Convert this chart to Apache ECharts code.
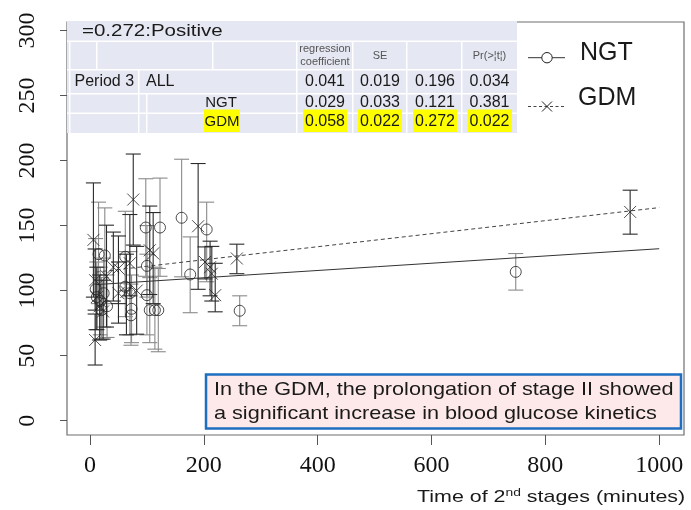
<!DOCTYPE html>
<html><head><meta charset="utf-8">
<script src="https://cdn.jsdelivr.net/npm/echarts@6/dist/echarts.min.js"></script>
<style>html,body{margin:0;padding:0;background:#fff}#c{width:691px;height:510px}</style>
</head><body><div id="c"></div>
<script>
// ---- data ----
const xTicks = [0, 200, 400, 600, 800, 1000];
const yTicks = [0, 50, 100, 150, 200, 250, 300];
// NGT: time (min), glucose, lower, upper
const ngtX  = [10, 12, 15, 18, 20, 24, 26, 30, 62, 62, 70, 73, 72, 98, 100, 100, 105, 114, 120, 123, 161, 176, 205, 263, 748];
const ngtY  = [101, 95, 128, 92, 85, 98, 127, 88, 126, 103, 98, 86, 81, 148.5, 119, 96.5, 85, 85, 85, 148.5, 156, 112.4, 147, 84.5, 114.4];
const ngtLo = [70, 70, 90, 66, 62.7, 72, 90, 64, 100, 80, 66, 60, 58, 111, 95, 66, 60, 55, 53, 111, 110.6, 83, 106.8, 73, 100.4];
const ngtHi = [140, 122, 168, 118, 110, 125, 163.6, 112, 161, 130, 130, 112, 105, 186, 150, 128, 110, 118, 117, 186.5, 201, 141.3, 168, 96, 128.5];
// GDM
const gdmX  = [6, 9, 9, 12, 17, 23, 29, 41, 50, 50, 64, 70, 76, 82, 105, 111, 190, 202, 211, 214, 220, 258, 949];
const gdmY  = [139, 62, 108, 95, 88, 84, 111, 118, 117, 98, 99, 121, 170, 100, 131, 128.6, 149.5, 122, 118, 113, 96.5, 124.7, 160.5];
const gdmLo = [95, 42.8, 85, 70, 62, 62.7, 72, 92, 90, 75, 66, 96, 135, 66.5, 97, 90, 101, 109, 96, 92, 83.7, 113, 143.4];
const gdmHi = [182.8, 82, 132, 118, 112, 108, 150.3, 145, 142, 122, 128, 158.5, 205, 134, 165, 160, 197.7, 133.6, 138, 134, 121, 135.7, 177.2];
// regression line end points
const ngtLine = [[10, 104.6], [1000, 132.2]];
const gdmLine = [[10, 114.2], [1000, 163.8]];
// table
const tableTitle = '=0.272:Positive';
const tableHead = ['regression\ncoefficient', 'SE', '', 'Pr(>¦t¦)'];
const rowAll = ['0.041', '0.019', '0.196', '0.034'];
const rowNgt = ['0.029', '0.033', '0.121', '0.381'];
const rowGdm = ['0.058', '0.022', '0.272', '0.022'];
const note = ['In the GDM, the prolongation of stage II showed', 'a significant increase in blood glucose kinetics'];

// ---- build ----
const chart = echarts.init(document.getElementById('c'), null, {renderer: 'canvas'});
const SANS = '"Liberation Sans", Arial, sans-serif';
const SERIF = '"Liberation Serif", "Times New Roman", serif';

function zip(a, b, c) { return a.map((v, i) => c ? [v, b[i], c[i]] : [v, b[i]]); }

function errBar(color) {
  return function (params, api) {
    const x = api.value(0), lo = api.value(1), hi = api.value(2);
    const a = api.coord([x, lo]), b = api.coord([x, hi]);
    const w = 7.5;
    const st = {stroke: color, lineWidth: 1.1};
    return {type: 'group', children: [
      {type: 'line', shape: {x1: a[0], y1: a[1], x2: b[0], y2: b[1]}, style: st},
      {type: 'line', shape: {x1: a[0] - w, y1: a[1], x2: a[0] + w, y2: a[1]}, style: st},
      {type: 'line', shape: {x1: b[0] - w, y1: b[1], x2: b[0] + w, y2: b[1]}, style: st}
    ]};
  };
}

const XPATH = 'path://M0,0L10,10M10,0L0,10';

// table graphics
const G = [];
const LAV = '#e5e7f2';
function cell(x1, y1, x2, y2, fill) {
  G.push({type: 'rect', z: 100, shape: {x: x1, y: y1, width: x2 - x1, height: y2 - y1}, style: {fill: fill || LAV}});
}
function txt(s, x, y, size, opt) {
  opt = opt || {};
  G.push({type: 'text', z: 101, x: x, y: y, scaleX: opt.sx || 1,
    style: {text: s, font: (opt.w || 'normal') + ' ' + size + 'px ' + (opt.f || SANS), fill: opt.c || '#1a1a1a',
      textAlign: opt.a || 'left', textVerticalAlign: 'middle', lineHeight: opt.lh || size}});
}
// white background of table
cell(67, 21, 517, 133, '#ffffff');
// row 1
cell(67, 21, 517, 40.5);
// row 2 .. 5 column splits
const colsA = [[67, 69], [70.5, 96], [97.5, 212], [213.5, 296], [297.5, 352], [353.5, 406], [407.5, 461], [462.5, 517]];
colsA.forEach(c => cell(c[0], 42, c[1], 69));
const colsB = [[67, 69], [70.5, 138], [139.5, 296], [297.5, 352], [353.5, 406], [407.5, 461], [462.5, 517]];
colsB.forEach(c => cell(c[0], 70.5, c[1], 93));
const colsC = [[67, 69], [70.5, 138], [139.5, 146], [147.5, 296], [297.5, 352], [353.5, 406], [407.5, 461], [462.5, 517]];
colsC.forEach(c => cell(c[0], 94.5, c[1], 112.5));
colsC.forEach(c => cell(c[0], 114, c[1], 133));

const valCx = [325, 380, 435, 489.5];
txt(tableTitle, 82, 31.5, 16, {sx: 1.28});
tableHead.forEach((h, i) => { if (h) txt(h, valCx[i], 55.5, 11, {a: 'center', c: '#555', lh: 12.5}); });
txt('Period 3', 74.5, 82, 16);
txt('ALL', 146, 81.5, 16);
rowAll.forEach((v, i) => txt(v, valCx[i], 82, 16, {a: 'center'}));
txt('NGT', 221, 103, 15, {a: 'center'});
rowNgt.forEach((v, i) => txt(v, valCx[i], 103, 16, {a: 'center'}));
// yellow highlights of GDM row
[[204, 240], [303, 347], [358, 402], [413, 457], [467.5, 512]].forEach(c => cell(c[0], 109.5, c[1], 132, '#ffff00'));
txt('GDM', 222, 122, 15, {a: 'center'});
rowGdm.forEach((v, i) => txt(v, valCx[i], 122, 16, {a: 'center'}));

// legend
G.push({type: 'line', z: 101, shape: {x1: 528, y1: 57.7, x2: 565, y2: 57.7}, style: {stroke: '#333', lineWidth: 1}});
G.push({type: 'circle', z: 102, shape: {cx: 547, cy: 57.7, r: 5.2}, style: {stroke: '#222', fill: '#fff', lineWidth: 1}});
txt('NGT', 580, 53, 25);
G.push({type: 'line', z: 101, shape: {x1: 528, y1: 106.5, x2: 565, y2: 106.5}, style: {stroke: '#444', lineWidth: 1, lineDash: [3, 2.5]}});
G.push({type: 'line', z: 102, shape: {x1: 542, y1: 101.5, x2: 552, y2: 111.5}, style: {stroke: '#222', lineWidth: 1}});
G.push({type: 'line', z: 102, shape: {x1: 552, y1: 101.5, x2: 542, y2: 111.5}, style: {stroke: '#222', lineWidth: 1}});
txt('GDM', 578, 98, 25);

// annotation box
G.push({type: 'rect', z: 100, shape: {x: 206, y: 374.5, width: 475, height: 54}, style: {fill: '#fde9e9', stroke: '#1f6fc0', lineWidth: 2.5}});
txt(note[0], 214, 390, 18.5, {sx: 1.17});
txt(note[1], 214, 413.5, 18.5, {sx: 1.17});

// x axis title with superscript
G.push({type: 'text', z: 101, x: 417, y: 497, scaleX: 1.26,
  style: {text: '{a|Time of 2}{s|nd}{a| stages (minutes)}', textVerticalAlign: 'middle',
    rich: {a: {font: '17px ' + SANS, fill: '#1a1a1a'}, s: {font: '11px ' + SANS, fill: '#1a1a1a', verticalAlign: 'top', padding: [0, 0, 9, 0]}}}});

const option = {
  backgroundColor: '#fff',
  animation: false,
  grid: {left: 67, right: 7, top: 22, bottom: 75, show: true, borderColor: '#6e6e6e', borderWidth: 1.2, backgroundColor: 'transparent'},
  xAxis: {
    type: 'value', min: -40.4, max: 1043.6,
    splitLine: {show: false},
    axisLine: {show: false, onZero: false},
    axisTick: {show: true, length: 10, inside: false, customValues: xTicks, lineStyle: {color: '#555'}},
    axisLabel: {customValues: xTicks, margin: 19, fontFamily: SERIF, fontSize: 24, color: '#111', formatter: v => String(v)}
  },
  yAxis: {
    type: 'value', min: -11, max: 306.5,
    splitLine: {show: false},
    axisLine: {show: false, onZero: false},
    axisTick: {show: true, length: 7, customValues: yTicks, lineStyle: {color: '#555'}},
    axisLabel: {customValues: yTicks, rotate: 90, margin: 27, fontFamily: SERIF, fontSize: 24, color: '#111', formatter: v => String(v)}
  },
  graphic: {elements: G},
  series: [
    {type: 'custom', name: 'NGT err', renderItem: errBar('#8a8a8a'), data: zip(ngtX, ngtLo, ngtHi), encode: {x: 0, y: [1, 2]}, z: 1, silent: true},
    {type: 'custom', name: 'GDM err', renderItem: errBar('#2a2a2a'), data: zip(gdmX, gdmLo, gdmHi), encode: {x: 0, y: [1, 2]}, z: 1, silent: true},
    {type: 'line', name: 'NGT fit', data: ngtLine, symbol: 'none', lineStyle: {color: '#333', width: 1}, z: 2},
    {type: 'line', name: 'GDM fit', data: gdmLine, symbol: 'none', lineStyle: {color: '#444', width: 1, type: [4, 3]}, z: 2},
    {type: 'scatter', name: 'NGT', data: zip(ngtX, ngtY), symbol: 'circle', symbolSize: 11,
      itemStyle: {color: 'rgba(0,0,0,0)', borderColor: '#222', borderWidth: 1}, z: 3},
    {type: 'scatter', name: 'GDM', data: zip(gdmX, gdmY), symbol: XPATH, symbolSize: 12,
      itemStyle: {color: 'rgba(0,0,0,0)', borderColor: '#222', borderWidth: 1}, z: 3}
  ]
};
chart.setOption(option);
</script>
</body></html>
